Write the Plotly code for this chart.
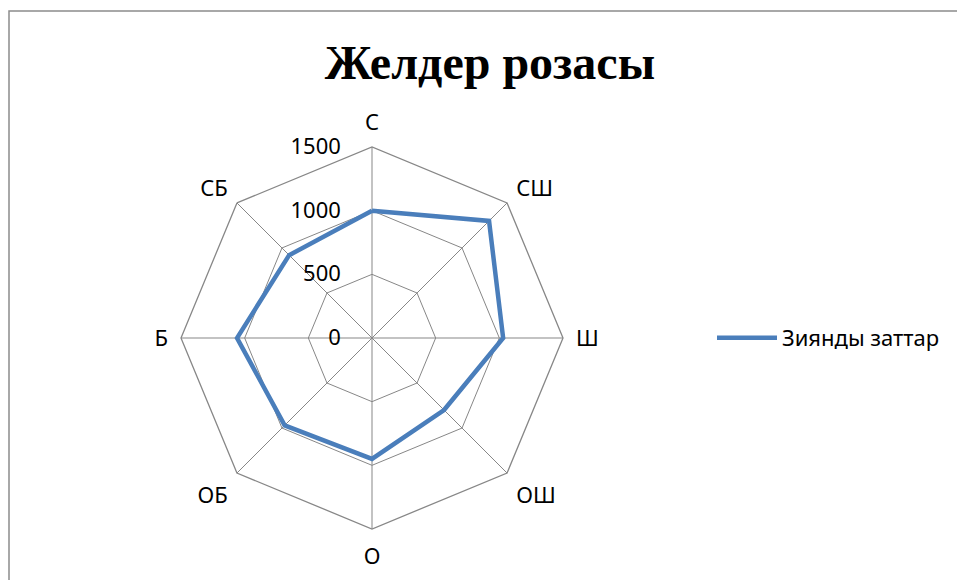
import plotly.graph_objects as go

# Wind rose: pollutant load by direction
directions = ["С", "СШ", "Ш", "ОШ", "О", "ОБ", "Б", "СБ"]
pollutants = [1000, 1300, 1030, 800, 950, 970, 1060, 920]
radial_ticks = [0, 500, 1000, 1500]

W, H = 957, 580
cx, cy, R = 372, 338, 191

grid_color = "#878787"
label_font = dict(family="Noto Sans, Liberation Sans, sans-serif", size=22, color="#000000")

fig = go.Figure()
fig.add_trace(go.Scatterpolar(
    r=pollutants + pollutants[:1],
    theta=directions + directions[:1],
    mode="lines",
    line=dict(color="#4A7EBB", width=4.5),
    name="Зиянды заттар",
))

fig.update_layout(
    width=W, height=H,
    margin=dict(l=0, r=0, t=0, b=0),
    paper_bgcolor="white",
    plot_bgcolor="white",
    title=dict(
        text="<b>Желдер розасы</b>",
        font=dict(family="Liberation Serif, Times New Roman, serif", size=48, color="#000000"),
        x=490 / W, xanchor="center",
        y=1 - 62 / H, yanchor="middle",
    ),
    polar=dict(
        domain=dict(x=[(cx - R) / W, (cx + R) / W], y=[1 - (cy + R) / H, 1 - (cy - R) / H]),
        bgcolor="white",
        gridshape="linear",
        angularaxis=dict(
            rotation=90,
            direction="clockwise",
            showline=True,
            linecolor=grid_color,
            linewidth=1.3,
            gridcolor=grid_color,
            gridwidth=1.3,
            ticks="outside",
            ticklen=8,
            tickcolor="rgba(0,0,0,0)",
            tickfont=label_font,
        ),
        radialaxis=dict(
            range=[0, 1500],
            tickvals=radial_ticks,
            ticktext=[str(v) for v in radial_ticks],
            angle=90,
            tickangle=90,
            side="counterclockwise",
            showline=False,
            gridcolor=grid_color,
            gridwidth=1.3,
            ticks="outside",
            ticklen=23,
            tickcolor="rgba(0,0,0,0)",
            tickfont=label_font,
        ),
    ),
    showlegend=True,
    legend=dict(
        x=712 / W, xanchor="left",
        y=1 - 338 / H, yanchor="middle",
        font=label_font,
        itemwidth=60,
        bgcolor="rgba(0,0,0,0)",
    ),
    shapes=[dict(
        type="rect", xref="paper", yref="paper",
        x0=9 / W, x1=1.2, y0=-0.2, y1=1 - 11 / H,
        line=dict(color="#8C8C8C", width=1.5),
        fillcolor="rgba(0,0,0,0)",
        layer="below",
    )],
)

fig.write_html("out.html")
